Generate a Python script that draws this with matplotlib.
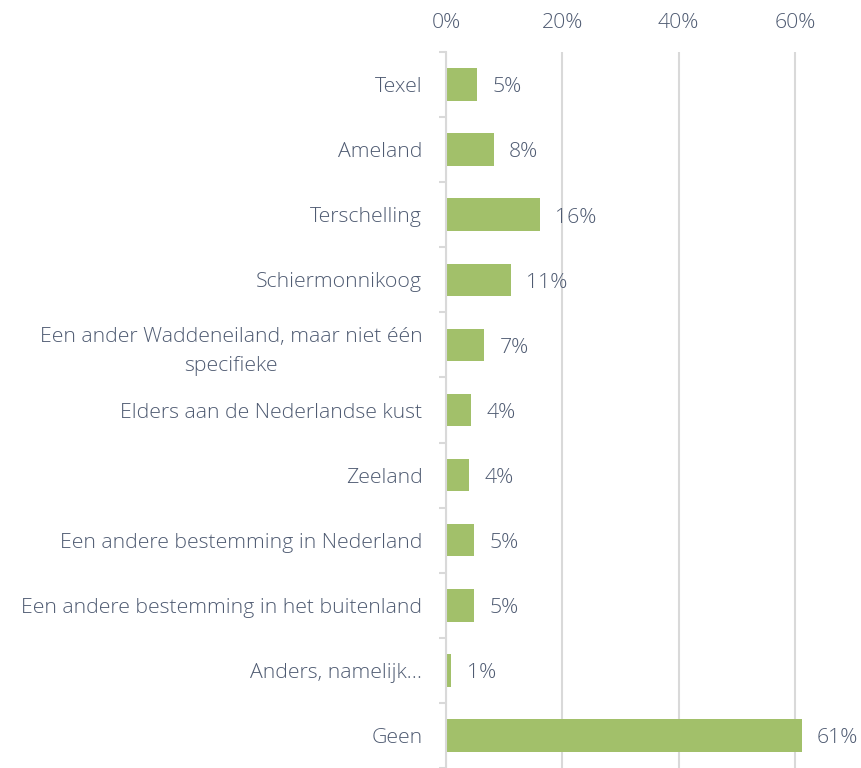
import matplotlib.pyplot as plt
from matplotlib.ticker import FixedLocator

# Data
categories = [
    'Texel',
    'Ameland',
    'Terschelling',
    'Schiermonnikoog',
    'Een ander Waddeneiland, maar niet één\nspecifieke',
    'Elders aan de Nederlandse kust',
    'Zeeland',
    'Een andere bestemming in Nederland',
    'Een andere bestemming in het buitenland',
    'Anders, namelijk…',
    'Geen',
]
values = [5.3, 8.2, 16.2, 11.2, 6.6, 4.3, 4.0, 4.8, 4.8, 0.9, 61.2]
value_labels = ['5%', '8%', '16%', '11%', '7%', '4%', '4%', '5%', '5%', '1%', '61%']
xticks = [0, 20, 40, 60]

text_color = '#4f5b72'
bar_color = '#a2c06a'
grid_color = '#d9d9d9'

plt.rcParams['font.family'] = ['Open Sans', 'DejaVu Sans']
fs = 15.3

fig = plt.figure(figsize=(8.61, 7.68), dpi=100)
ax = fig.add_axes([446 / 861, 0, 407 / 861, 716 / 768])

y = list(range(len(categories)))
ax.barh(y, values, height=0.5, color=bar_color, zorder=3)

for yi, v, lab in zip(y, values, value_labels):
    ax.annotate(lab, (v, yi), xytext=(11, -2), textcoords='offset points',
                va='center', ha='left', fontsize=fs, color=text_color,
                fontweight='light')

ax.set_xlim(0, 70)
ax.set_ylim(len(categories) - 0.5, -0.5)

ax.xaxis.tick_top()
ax.set_xticks(xticks)
ax.set_xticklabels([f'{t}%' for t in xticks], fontweight='light')
ax.tick_params(axis='x', length=0, pad=14, labelsize=fs, labelcolor=text_color)
ax.grid(axis='x', color=grid_color, linewidth=1.5, zorder=0)

ax.set_yticks(y)
ax.set_yticklabels(categories, fontsize=fs, color=text_color, fontweight='light')
ax.tick_params(axis='y', which='major', length=0, pad=17)
ax.yaxis.set_minor_locator(FixedLocator([i - 0.5 for i in range(len(categories) + 1)]))
ax.tick_params(axis='y', which='minor', length=5, width=1.5, color=grid_color)
for t in ax.get_yticklabels():
    t.set_multialignment('center')
    t.set_linespacing(1.55)

for s in ['top', 'right', 'bottom']:
    ax.spines[s].set_visible(False)
ax.spines['left'].set_color(grid_color)
ax.spines['left'].set_linewidth(1.5)
ax.spines['left'].set_zorder(4)

fig.savefig('out.png', dpi=100)
